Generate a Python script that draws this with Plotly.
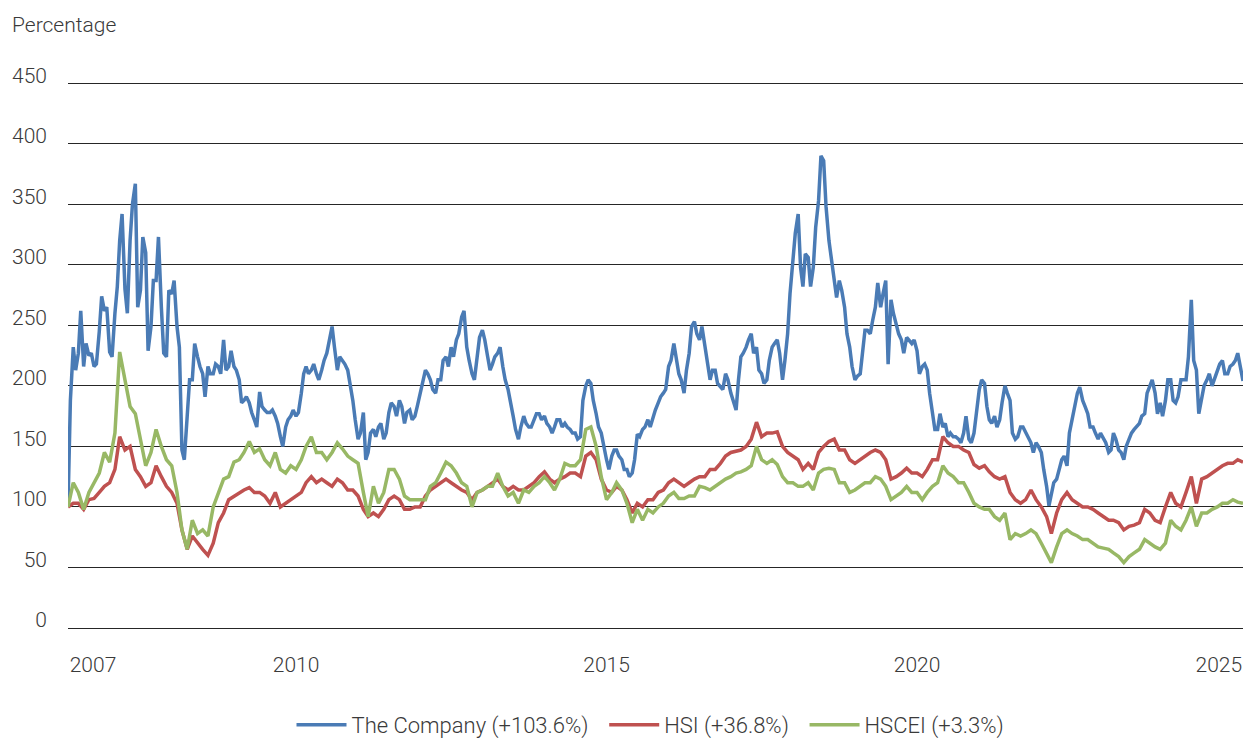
import pandas as pd
import plotly.graph_objects as go

# The Company: semi-monthly observations (1st and 15th), May 2006 .. Apr 2025, rebased to 100
dates_company = pd.date_range("2006-05-01", periods=455, freq="SMS")
# HSI / HSCEI: monthly observations, May 2006 .. Apr 2025
dates_index = pd.date_range("2006-05-01", periods=228, freq="MS")

company = [
    100, 188, 232, 213, 227, 262, 216, 235, 225, 227,
    216, 218, 245, 274, 262, 265, 228, 224, 260, 282,
    320, 342, 280, 260, 320, 350, 367, 265, 279, 323,
    310, 229, 249, 287, 287, 323, 265, 227, 224, 279,
    276, 287, 249, 232, 147, 139, 175, 205, 205, 235,
    224, 216, 210, 191, 216, 210, 210, 218, 216, 210,
    238, 213, 216, 229, 216, 213, 205, 186, 188, 191,
    186, 178, 172, 166, 195, 183, 180, 178, 178, 180,
    175, 169, 158, 150, 166, 172, 175, 180, 175, 178,
    194, 210, 216, 210, 213, 218, 210, 205, 213, 221,
    227, 238, 249, 232, 213, 224, 221, 218, 213, 202,
    188, 172, 156, 161, 178, 139, 145, 161, 164, 158,
    166, 169, 156, 161, 178, 186, 183, 175, 188, 183,
    169, 178, 180, 172, 175, 183, 194, 200, 213, 210,
    205, 197, 194, 205, 205, 221, 224, 216, 232, 224,
    238, 243, 257, 262, 232, 221, 210, 205, 221, 240,
    246, 238, 224, 213, 218, 224, 227, 232, 216, 205,
    197, 188, 175, 164, 156, 166, 175, 169, 166, 166,
    172, 177, 177, 172, 175, 169, 166, 161, 166, 172,
    172, 166, 169, 166, 164, 161, 161, 156, 158, 188,
    200, 205, 202, 188, 177, 166, 161, 150, 139, 131,
    142, 147, 147, 142, 139, 131, 131, 125, 128, 139,
    160, 158, 164, 166, 172, 166, 175, 180, 186, 191,
    194, 197, 216, 221, 235, 224, 210, 205, 194, 213,
    227, 249, 253, 243, 238, 249, 232, 221, 205, 213,
    213, 202, 199, 197, 210, 205, 194, 188, 180, 205,
    224, 227, 232, 238, 243, 227, 232, 213, 210, 202,
    205, 221, 232, 235, 238, 227, 205, 221, 243, 276,
    301, 326, 342, 298, 282, 309, 306, 282, 298, 331,
    353, 390, 386, 348, 320, 306, 287, 273, 287, 279,
    265, 243, 232, 216, 205, 208, 210, 227, 246, 246,
    243, 254, 265, 285, 265, 276, 287, 218, 271, 260,
    251, 243, 238, 227, 240, 238, 235, 238, 229, 210,
    216, 218, 213, 194, 178, 164, 164, 177, 166, 169,
    158, 161, 158, 158, 156, 153, 161, 175, 156, 153,
    161, 175, 197, 205, 202, 183, 172, 169, 175, 166,
    172, 186, 200, 194, 188, 161, 156, 158, 166, 166,
    161, 158, 153, 145, 153, 150, 145, 131, 117, 101,
    109, 120, 123, 131, 139, 142, 134, 161, 172, 183,
    194, 199, 188, 183, 177, 166, 166, 161, 156, 161,
    156, 153, 145, 147, 161, 156, 147, 145, 139, 150,
    156, 161, 164, 166, 169, 175, 177, 194, 199, 205,
    194, 177, 186, 175, 188, 205, 205, 188, 186, 191,
    205, 205, 205, 224, 271, 221, 213, 177, 188, 200,
    205, 210, 200, 205, 213, 218, 221, 210, 210, 216,
    218, 221, 227, 216, 204,
]

hsi = [
    100, 103, 103, 98, 106, 107, 112, 117, 120, 131,
    158, 147, 150, 131, 125, 117, 120, 134, 125, 117,
    112, 103, 81, 65, 76, 70, 65, 60, 70, 87,
    95, 106, 109, 112, 114, 116, 112, 112,
    109, 103, 112, 100, 103, 106, 109, 112, 120, 125,
    120, 123, 120, 117, 123, 120, 114, 114, 109, 98,
    92, 95, 92, 98, 106, 109, 106, 98, 98, 100,
    100, 109, 114, 117, 120, 123, 120,
    117, 114, 112, 106, 112, 114, 117, 120, 123, 117,
    114, 117, 114, 114, 117, 120, 125, 129, 123, 120,
    123, 125, 128, 128, 125, 142, 145, 139, 123, 114,
    112, 117, 114, 106, 95, 103,
    100, 106, 106, 112, 114, 120, 123, 120, 117, 120,
    123, 125, 125, 131, 131, 136, 142, 145, 146, 147,
    150, 156, 170, 158, 161, 161, 162, 150, 145, 142,
    139, 131, 136, 131, 145, 150, 154,
    156, 147, 147, 139, 136, 139, 142, 145, 147, 145,
    139, 123, 125, 128, 132, 128, 128, 125, 131, 139,
    139, 158, 153, 150, 150, 147, 145, 135, 132, 134,
    129, 125, 123, 125, 112, 106, 103,
    106, 114, 106, 100, 92, 78, 95, 106, 112, 106,
    103, 100, 100, 98, 95, 92, 89, 89, 87, 81,
    84, 85, 87, 98, 95, 89, 87, 100, 112, 103,
    100, 112, 125, 103, 123, 125, 128, 131, 134, 136,
    136, 139, 137,
]

hscei = [
    100, 120, 112, 98, 112, 120, 128, 145, 137, 161,
    228, 205, 183, 177, 156, 134, 145, 164, 150, 139,
    134, 112, 81, 65, 89, 78, 81, 76, 100, 112,
    123, 125, 137, 139, 145, 154, 145, 148,
    139, 134, 145, 131, 128, 134, 131, 139, 150, 158,
    145, 145, 139, 145, 153, 148, 142, 139, 136, 112,
    92, 117, 103, 112, 131, 131, 123, 109, 106, 106,
    106, 106, 117, 120, 128, 137, 134,
    128, 120, 117, 100, 112, 114, 117, 117, 128, 117,
    109, 112, 103, 114, 112, 117, 120, 125, 120, 114,
    123, 136, 134, 134, 139, 164, 166, 150, 125, 106,
    112, 120, 114, 103, 87, 98,
    89, 98, 95, 100, 103, 109, 112, 107, 107, 109,
    109, 117, 116, 114, 117, 120, 123, 125, 128, 129,
    131, 134, 150, 139, 136, 139, 135, 125, 120, 120,
    117, 117, 120, 114, 128, 131, 132,
    131, 120, 120, 112, 114, 117, 120, 120, 125, 123,
    117, 106, 109, 112, 117, 112, 112, 106, 112, 117,
    120, 134, 128, 125, 120, 120, 112, 103, 100, 98,
    98, 92, 89, 95, 73, 78, 76,
    78, 81, 78, 70, 62, 54, 67, 78, 81, 78,
    76, 73, 73, 70, 67, 66, 65, 62, 59, 54,
    59, 62, 65, 73, 70, 67, 65, 70, 89, 84,
    81, 89, 100, 84, 95, 95, 98, 100, 103, 103,
    106, 104, 103,
]

series_names = ["The Company (+103.6%)", "HSI (+36.8%)", "HSCEI (+3.3%)"]
series_colors = ["#4a7bb5", "#bf5150", "#98b865"]

x_tick_dates = ["2006-09-25", "2010-01-01", "2015-01-01", "2020-01-01", "2024-11-10"]
x_tick_text = ["2007", "2010", "2015", "2020", "2025"]
y_ticks = [0, 50, 100, 150, 200, 250, 300, 350, 400, 450]

FONT = dict(family="Roboto, Liberation Sans, sans-serif", size=21, color="#3a3a3a", weight=300)
LEGEND_FONT = dict(FONT, size=22)
NBSP = "\u00a0\u00a0"

fig = go.Figure()
for name, xs, vals, col in zip(series_names,
                               [dates_company, dates_index, dates_index],
                               [company, hsi, hscei], series_colors):
    fig.add_trace(go.Scatter(x=xs, y=vals, mode="lines", name=name + NBSP,
                             line=dict(color=col, width=3.5)))

fig.update_layout(
    width=1243, height=738,
    margin=dict(l=68, r=0, t=82, b=110, autoexpand=False),
    paper_bgcolor="white", plot_bgcolor="white",
    font=FONT,
    showlegend=True,
    legend=dict(orientation="h", x=0.5, xanchor="center", y=-0.1777, yanchor="middle",
                font=LEGEND_FONT, itemwidth=50, traceorder="normal"),
    annotations=[dict(text="Percentage", xref="paper", yref="paper",
                      x=-0.0494, y=1.104, xanchor="left", yanchor="middle",
                      showarrow=False, font=FONT)],
)
fig.update_xaxes(
    range=[dates_index[0], dates_index[-1]], showgrid=False, zeroline=False, showline=False,
    tickmode="array", tickvals=x_tick_dates, ticktext=x_tick_text,
    ticks="", ticklabelstandoff=22, tickfont=FONT, ticklabeloverflow="allow",
)
fig.update_yaxes(
    range=[0, 451], tickmode="array", tickvals=y_ticks,
    showgrid=True, gridcolor="#262626", gridwidth=1,
    zeroline=True, zerolinecolor="#262626", zerolinewidth=1,
    showline=False, ticks="", ticklabelshift=-8, ticklabelstandoff=20, tickfont=FONT,
)

fig.write_html(
    "out.html",
    config={"displayModeBar": False},
    post_script="document.body.style.margin='0';document.body.style.overflow='hidden';",
)
